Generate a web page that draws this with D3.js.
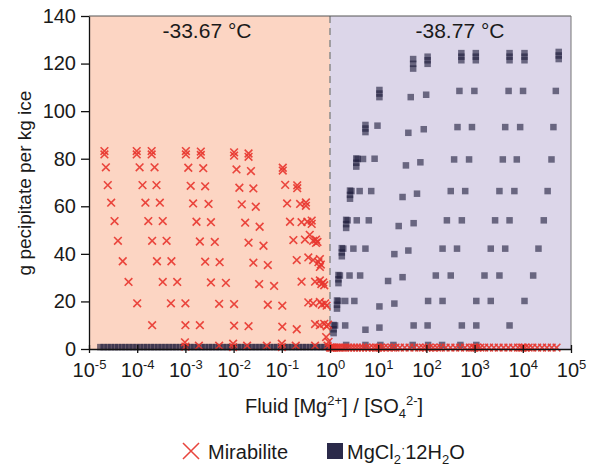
<!DOCTYPE html>
<html>
<head>
<meta charset="utf-8">
<script src="https://cdn.jsdelivr.net/npm/d3@7"></script>
<style>
  body { margin: 0; background: #fff; }
  text { font-family: "Liberation Sans", Arial, sans-serif; fill: #1a1a1a; }
</style>
</head>
<body>
<div id="chart"></div>
<script>
// x values below are log10 of fluid [Mg2+]/[SO4 2-], y values are g precipitate per kg ice
const xTickExponents = [-5, -4, -3, -2, -1, 0, 1, 2, 3, 4, 5];
const yTicks = [0, 20, 40, 60, 80, 100, 120, 140];
const zoneLabels = ['-33.67 °C', '-38.77 °C'];

// Mirabilite runs that start on the 82 g/kg plateau
const mirabiliteRuns = [
  [[-4.68, 83.2], [-4.68, 81.8], [-4.65, 76.4], [-4.61, 68.9], [-4.54, 61.5], [-4.47, 53.8], [-4.40, 45.5], [-4.30, 36.9], [-4.18, 28.2], [-4.00, 19.2], [-3.69, 10.0]],
  [[-4.01, 83.2], [-4.01, 81.8], [-3.95, 76.4], [-3.89, 68.9], [-3.83, 61.5], [-3.77, 53.8], [-3.69, 45.5], [-3.59, 36.9], [-3.47, 28.2], [-3.30, 19.2], [-3.00, 10.0]],
  [[-3.70, 83.2], [-3.70, 81.8], [-3.64, 76.4], [-3.60, 68.9], [-3.53, 61.5], [-3.47, 53.8], [-3.39, 45.5], [-3.29, 36.9], [-3.17, 28.2], [-3.00, 19.2], [-2.70, 10.0]],
  [[-2.99, 83.2], [-2.99, 81.8], [-2.94, 76.2], [-2.89, 68.6], [-2.84, 61.2], [-2.77, 53.5], [-2.70, 45.2], [-2.59, 36.7], [-2.47, 28.0], [-2.30, 19.0], [-1.99, 9.8]],
  [[-2.68, 83.0], [-2.68, 81.6], [-2.63, 76.0], [-2.59, 68.4], [-2.52, 61.0], [-2.47, 53.3], [-2.39, 45.0], [-2.29, 36.5], [-2.16, 27.8], [-1.99, 18.9], [-1.69, 9.6]],
  [[-1.99, 82.7], [-1.99, 81.3], [-1.94, 75.5], [-1.88, 67.8], [-1.83, 60.8], [-1.76, 53.1], [-1.69, 44.7], [-1.59, 36.3], [-1.47, 27.3], [-1.29, 18.6], [-0.99, 9.4]],
  [[-1.69, 82.2], [-1.69, 80.8], [-1.64, 74.8], [-1.59, 67.5], [-1.54, 59.8], [-1.46, 51.4], [-1.38, 43.4], [-1.29, 35.3], [-1.16, 26.5], [-0.99, 18.2], [-0.69, 8.3]]
];

// Mirabilite points crowding towards a ratio of 1
const mirabiliteNearOne = [
  [-0.98, 76.2], [-0.98, 75.0],
  [-0.93, 69.0], [-0.68, 68.8], [-0.68, 67.6],
  [-0.89, 61.2], [-0.62, 61.0], [-0.50, 61.6], [-0.50, 60.2],
  [-0.83, 53.5], [-0.59, 53.3], [-0.47, 53.5], [-0.38, 54.0], [-0.38, 52.6],
  [-0.76, 45.8], [-0.52, 46.0], [-0.42, 48.0], [-0.35, 45.5], [-0.29, 46.0], [-0.29, 44.6], [-0.26, 45.0],
  [-0.69, 37.4], [-0.45, 38.5], [-0.35, 37.4], [-0.24, 36.5], [-0.21, 37.8], [-0.19, 35.5], [-0.21, 34.5],
  [-0.59, 28.3], [-0.31, 28.3], [-0.21, 28.8], [-0.18, 27.3], [-0.14, 28.0], [-0.12, 26.8],
  [-0.45, 19.6], [-0.35, 19.2], [-0.21, 19.8], [-0.17, 18.6], [-0.10, 19.2], [-0.07, 18.2],
  [-0.31, 10.5], [-0.21, 10.0], [-0.12, 10.6], [-0.07, 9.5], [-0.04, 10.2],
  [-0.08, 5.0], [-0.03, 3.0]
];

// Mirabilite close to zero, left of ratio 1
const mirabiliteBaseLeft = [
  [-3.01, 2.8], [-3.00, 1.0], [-2.72, 1.4], [-2.30, 1.4], [-2.01, 2.2], [-2.01, 0.8],
  [-1.72, 1.4], [-1.31, 1.4], [-1.00, 2.2], [-1.00, 0.8], [-0.71, 1.4], [-0.31, 1.4], [-0.05, 1.4]
];

// Mirabilite along the bottom, right of ratio 1 (all at about 0.6 g/kg)
const mirabiliteBaseRightG = 0.6;
const mirabiliteBaseRight = [
  0.00, 0.02, 0.04, 0.07, 0.10, 0.14, 0.18, 0.22, 0.27, 0.32, 0.38, 0.44, 0.50, 0.56, 0.62, 0.68,
  0.75, 0.82, 0.90, 0.96, 1.00, 1.05, 1.12, 1.20, 1.28, 1.36, 1.45, 1.55, 1.65, 1.75, 1.85, 1.93,
  2.00, 2.06, 2.14, 2.22, 2.30, 2.40, 2.50, 2.60, 2.70, 2.80, 2.90, 2.97, 3.00, 3.05, 3.12, 3.20,
  3.30, 3.40, 3.50, 3.60, 3.70, 3.80, 3.90, 3.97, 4.00, 4.05, 4.12, 4.20, 4.30, 4.40, 4.50, 4.60, 4.70
];

// MgCl2·12H2O runs
const mgclRuns = [
  [[1.02, 109.0], [1.02, 107.5], [1.02, 106.0], [0.98, 94.0], [0.92, 80.1], [0.85, 66.5], [0.80, 54.2], [0.73, 42.3], [0.62, 31.0], [0.50, 20.3], [0.31, 10.0]],
  [[0.73, 94.3], [0.73, 92.8], [0.73, 91.3], [0.68, 80.0], [0.61, 66.5], [0.55, 54.2], [0.48, 42.3], [0.40, 31.0], [0.31, 20.3]],
  [[1.72, 122.0], [1.72, 120.0], [1.72, 118.0], [1.67, 106.0], [1.62, 91.0], [1.57, 77.3], [1.50, 64.0], [1.42, 51.8], [1.33, 40.0], [1.20, 28.7], [1.02, 18.0], [0.73, 8.2]],
  [[2.02, 123.0], [2.02, 121.5], [2.02, 120.0], [1.99, 107.0], [1.94, 92.5], [1.87, 78.6], [1.80, 65.4], [1.73, 53.0], [1.62, 41.5], [1.50, 30.3], [1.33, 19.2], [1.02, 9.1]],
  [[2.72, 124.5], [2.72, 123.0], [2.72, 121.5], [2.68, 108.6], [2.64, 93.4], [2.57, 79.8], [2.50, 66.5], [2.42, 54.2], [2.33, 42.3], [2.19, 31.0], [2.03, 20.3], [1.73, 10.0]],
  [[3.02, 124.5], [3.02, 123.0], [3.02, 121.5], [2.99, 108.6], [2.94, 93.4], [2.88, 79.8], [2.80, 66.5], [2.73, 54.2], [2.63, 42.3], [2.50, 31.0], [2.33, 20.3], [2.02, 10.0]],
  [[3.72, 124.5], [3.72, 123.0], [3.72, 121.5], [3.70, 108.6], [3.63, 93.4], [3.58, 79.8], [3.51, 66.5], [3.42, 54.2], [3.33, 42.3], [3.20, 31.0], [3.03, 20.3], [2.73, 10.0]],
  [[4.03, 124.5], [4.03, 123.0], [4.03, 121.5], [4.00, 108.6], [3.94, 93.4], [3.87, 79.8], [3.82, 66.5], [3.72, 54.2], [3.63, 42.3], [3.51, 31.0], [3.33, 20.3], [3.03, 10.0]],
  [[4.74, 125.0], [4.74, 123.5], [4.74, 122.0], [4.68, 108.6], [4.63, 93.4], [4.59, 79.8], [4.51, 66.5], [4.43, 54.2], [4.32, 42.3], [4.21, 31.0], [4.03, 20.3], [3.72, 10.0]]
];

// MgCl2·12H2O stacks just right of ratio 1
const mgclNearOne = [
  [0.54, 80.2], [0.54, 78.4], [0.54, 76.8], [0.57, 80.0],
  [0.41, 66.7], [0.41, 64.9], [0.41, 63.3], [0.44, 66.5],
  [0.33, 54.4], [0.33, 52.6], [0.33, 51.0], [0.36, 54.2],
  [0.24, 42.5], [0.24, 40.7], [0.24, 39.1], [0.27, 42.3],
  [0.17, 31.2], [0.17, 29.4], [0.17, 27.8], [0.20, 31.0],
  [0.14, 20.5], [0.14, 18.7], [0.14, 17.1], [0.17, 20.3],
  [0.07, 10.2], [0.07, 8.4], [0.07, 6.8], [0.10, 10.0]
];

// MgCl2·12H2O along the bottom
const mgclBaseLeftG = 0.9;
const mgclBaseLeft = [
  -4.77, -4.70, -4.62, -4.55, -4.47, -4.40, -4.32, -4.25, -4.17, -4.10, -4.02, -3.95, -3.87, -3.80,
  -3.72, -3.65, -3.57, -3.50, -3.42, -3.35, -3.27, -3.20, -3.12, -3.05, -2.97, -2.90, -2.82, -2.75,
  -2.67, -2.60, -2.52, -2.45, -2.37, -2.30, -2.22, -2.15, -2.07, -2.00, -1.92, -1.85, -1.77, -1.70,
  -1.62, -1.55, -1.47, -1.40, -1.32, -1.25, -1.17, -1.10, -1.02, -0.95, -0.87, -0.80, -0.72, -0.65,
  -0.57, -0.50, -0.42, -0.35, -0.27, -0.20, -0.12, -0.05
];
const mgclBaseRight = [[0.33, 1.8], [0.73, 1.8], [1.04, 1.8], [1.31, 1.8], [1.71, 1.8], [2.03, 1.8], [2.32, 1.8], [2.70, 1.8], [3.03, 1.8]];

const width = 598;
const height = 466;

const svg = d3.select('#chart').append('svg')
    .attr('width', width)
    .attr('height', height);

const xScale = d3.scaleLog()
    .domain([1e-5, 1e5])
    .range([89, 571]);

const yScale = d3.scaleLinear()
    .domain([0, 140])
    .range([349, 16]);

const px = e => xScale(Math.pow(10, e));

// Shaded zones
svg.append('rect')
    .attr('x', xScale(1e-5))
    .attr('y', yScale(140))
    .attr('width', xScale(1) - xScale(1e-5))
    .attr('height', yScale(0) - yScale(140))
    .attr('fill', '#fcd5c3');

svg.append('rect')
    .attr('x', xScale(1))
    .attr('y', yScale(140))
    .attr('width', xScale(1e5) - xScale(1))
    .attr('height', yScale(0) - yScale(140))
    .attr('fill', '#dcd6e9');

svg.append('line')
    .attr('x1', xScale(1)).attr('x2', xScale(1))
    .attr('y1', yScale(140)).attr('y2', yScale(0))
    .attr('stroke', '#8a8a8a')
    .attr('stroke-width', 1.5)
    .attr('stroke-dasharray', '7,5');

// Zone temperatures
svg.append('text')
    .attr('x', 207).attr('y', 38)
    .attr('text-anchor', 'middle')
    .style('font-size', '21px')
    .text(zoneLabels[0]);

svg.append('text')
    .attr('x', 460).attr('y', 38)
    .attr('text-anchor', 'middle')
    .style('font-size', '21px')
    .text(zoneLabels[1]);

// MgCl2·12H2O squares
const mgclPoints = [].concat(
    ...mgclRuns,
    mgclNearOne,
    mgclBaseLeft.map(e => [e, mgclBaseLeftG]),
    mgclBaseRight
);

svg.append('g')
    .selectAll('rect')
    .data(mgclPoints)
    .enter().append('rect')
    .attr('x', d => px(d[0]) - 3)
    .attr('y', d => yScale(d[1]) - 3)
    .attr('width', 6.5)
    .attr('height', 6.5)
    .attr('fill', '#1d1b3b')
    .attr('opacity', 0.6);

// Mirabilite crosses
const mirabilitePoints = [].concat(
    ...mirabiliteRuns,
    mirabiliteNearOne,
    mirabiliteBaseLeft,
    mirabiliteBaseRight.map(e => [e, mirabiliteBaseRightG])
);

const cross = d3.symbol().type(d3.symbolX).size(40);

svg.append('g')
    .selectAll('path')
    .data(mirabilitePoints)
    .enter().append('path')
    .attr('transform', d => `translate(${px(d[0])}, ${yScale(d[1])})`)
    .attr('d', cross)
    .attr('fill', 'none')
    .attr('stroke', '#e8352e')
    .attr('stroke-width', 1.6)
    .attr('opacity', 0.9);

// Frame
svg.append('line')
    .attr('x1', xScale(1e-5)).attr('x2', xScale(1e5))
    .attr('y1', yScale(140)).attr('y2', yScale(140))
    .attr('stroke', '#555');

svg.append('line')
    .attr('x1', xScale(1e5)).attr('x2', xScale(1e5))
    .attr('y1', yScale(140)).attr('y2', yScale(0))
    .attr('stroke', '#777');

// Y axis
const yAxis = svg.append('g')
    .attr('transform', `translate(${xScale(1e-5)}, 0)`)
    .call(d3.axisLeft(yScale).tickValues(yTicks).tickSize(8).tickSizeOuter(0).tickPadding(5));

yAxis.selectAll('path, line').attr('stroke', '#111').attr('stroke-width', 1.3);
yAxis.selectAll('text')
    .attr('font-family', '"Liberation Sans", Arial, sans-serif')
    .attr('font-size', 20)
    .attr('fill', '#1a1a1a');

// X axis
const xAxis = svg.append('g')
    .attr('transform', `translate(0, ${yScale(0)})`)
    .call(d3.axisBottom(xScale)
        .tickValues(xTickExponents.map(e => Math.pow(10, e)))
        .tickSize(4).tickSizeOuter(0).tickFormat(''));

xAxis.selectAll('path, line').attr('stroke', '#111').attr('stroke-width', 1.3);
xAxis.selectAll('.tick line').attr('y1', -4);

xAxis.selectAll('.tick').each(function(d) {
    const t = d3.select(this).append('text')
        .attr('y', 28)
        .attr('text-anchor', 'middle')
        .attr('font-family', '"Liberation Sans", Arial, sans-serif')
        .attr('font-size', 20)
        .attr('fill', '#1a1a1a');
    t.append('tspan').text('10');
    t.append('tspan')
        .attr('dy', -8)
        .attr('font-size', 13)
        .text(Math.round(Math.log10(d)));
});

// Axis titles
const xTitle = svg.append('text')
    .attr('x', 334).attr('y', 413)
    .attr('text-anchor', 'middle')
    .style('font-size', '20px');
xTitle.append('tspan').text('Fluid [Mg');
xTitle.append('tspan').attr('dy', -8).style('font-size', '13px').text('2+');
xTitle.append('tspan').attr('dy', 8).text('] / [SO');
xTitle.append('tspan').attr('dy', 5).style('font-size', '13px').text('4');
xTitle.append('tspan').attr('dy', -13).style('font-size', '13px').text('2-');
xTitle.append('tspan').attr('dy', 8).text(']');

svg.append('text')
    .attr('transform', 'rotate(-90)')
    .attr('x', -183)
    .attr('y', 31)
    .attr('text-anchor', 'middle')
    .style('font-size', '19px')
    .text('g pecipitate per kg ice');

// Legend
const legend = svg.append('g').attr('class', 'legend');

legend.append('path')
    .attr('transform', 'translate(191, 451)')
    .attr('d', d3.symbol().type(d3.symbolX).size(170))
    .attr('fill', 'none')
    .attr('stroke', '#e8453d')
    .attr('stroke-width', 1.5);

legend.append('text')
    .attr('x', 208).attr('y', 459)
    .style('font-size', '20px')
    .text('Mirabilite');

legend.append('rect')
    .attr('x', 327).attr('y', 443)
    .attr('width', 16).attr('height', 16)
    .attr('fill', '#2b2a4a');

const mgclLabel = legend.append('text')
    .attr('x', 347).attr('y', 459)
    .style('font-size', '20px');
mgclLabel.append('tspan').text('MgCl');
mgclLabel.append('tspan').attr('dy', 5).style('font-size', '13px').text('2');
mgclLabel.append('tspan').attr('dy', -12).style('font-size', '13px').text('·');
mgclLabel.append('tspan').attr('dy', 7).text('12H');
mgclLabel.append('tspan').attr('dy', 5).style('font-size', '13px').text('2');
mgclLabel.append('tspan').attr('dy', -5).text('O');
</script>
</body>
</html>
